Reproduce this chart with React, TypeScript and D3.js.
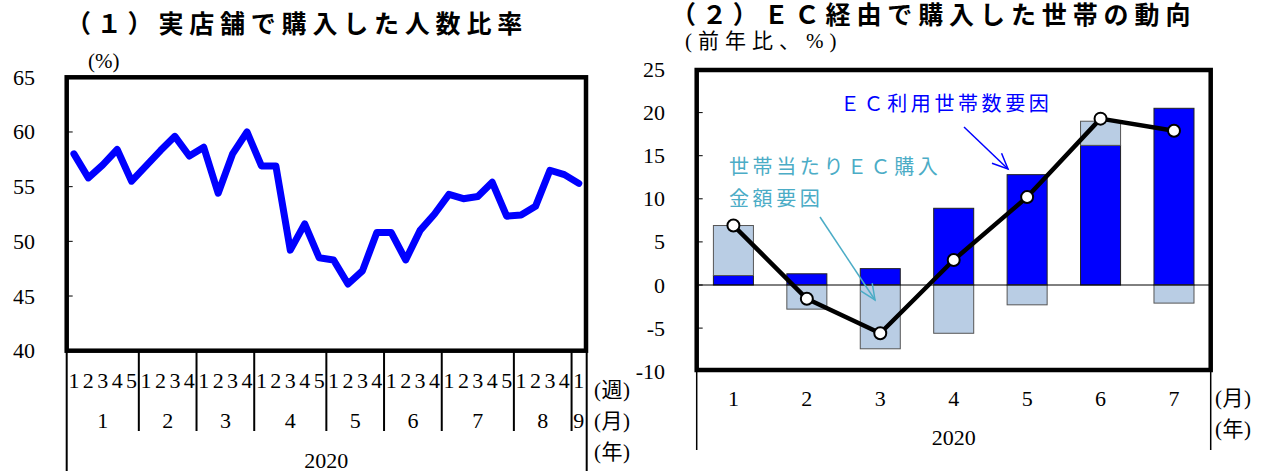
import React from 'react';
import * as d3 from 'd3';

// (1) share of people buying in physical stores, weekly, 2020
const storeRatio = [
  58.0, 55.8, 57.0, 58.4, 55.5,
  56.9, 58.3, 59.6, 57.8,
  58.6, 54.4, 58.0, 60.0,
  56.9, 56.9, 49.2, 51.6, 48.5,
  48.3, 46.1, 47.3, 50.8,
  50.8, 48.3, 51.0, 52.5,
  54.3, 53.9, 54.1, 55.4, 52.3,
  52.4, 53.2, 56.5, 56.1,
  55.3,
];
const storeMonths = ['1', '2', '3', '4', '5', '6', '7', '8', '9'];
const weeksPerMonth = [5, 4, 4, 5, 4, 4, 5, 4, 1];
const storeTicks = [40, 45, 50, 55, 60, 65];

// (2) EC purchasing households, y/y %
const ecMonths = ['1', '2', '3', '4', '5', '6', '7'];
const householdFactor = [1.1, 1.3, 1.9, 8.9, 12.8, 16.2, 20.5];
const amountFactor = [5.8, -2.8, -7.4, -5.6, -2.3, 2.8, -2.1];
const ecTotal = [6.9, -1.6, -5.6, 2.9, 10.2, 19.3, 17.9];
const ecTicks = [-10, -5, 0, 5, 10, 15, 20, 25];

const serif = "'Liberation Serif', 'Noto Sans CJK JP', serif";
const gothic = "'Noto Sans CJK JP', sans-serif";
const BLUE = '#0000ff';
const LIGHT = '#b9cde4';
const TEAL = '#4bacc6';

const fmt = (v: number) => (v < 0 ? '-' + Math.abs(v) : String(v));

function Arrow({ x1, y1, x2, y2, color }: { x1: number; y1: number; x2: number; y2: number; color: string }) {
  const a = Math.atan2(y2 - y1, x2 - x1);
  const len = 17;
  const spread = 0.42;
  const p1 = [x2 - len * Math.cos(a - spread), y2 - len * Math.sin(a - spread)];
  const p2 = [x2 - len * Math.cos(a + spread), y2 - len * Math.sin(a + spread)];
  return (
    <g stroke={color} strokeWidth={1.5} fill="none">
      <line x1={x1} y1={y1} x2={x2} y2={y2} />
      <polyline points={`${p1[0]},${p1[1]} ${x2},${y2} ${p2[0]},${p2[1]}`} />
    </g>
  );
}

function StoreChart() {
  const weeks = storeRatio.map((_, i) => i);
  const x = d3.scaleBand<number>().domain(weeks).range([66.7, 586]);
  const y = d3.scaleLinear().domain([40, 65]).range([350.7, 77.3]);
  const line = d3.line<number>()
    .x((_, i) => x(i)! + x.bandwidth() / 2)
    .y(d => y(d));

  // week labels + month boundaries
  const weekLabels: { i: number; label: string }[] = [];
  const bounds: number[] = [];
  const monthCenters: { m: string; cx: number }[] = [];
  let k = 0;
  weeksPerMonth.forEach((n, mi) => {
    const start = x(k)!;
    for (let w = 1; w <= n; w++) weekLabels.push({ i: k + w - 1, label: String(w) });
    k += n;
    const end = k < weeks.length ? x(k)! : x.range()[1];
    monthCenters.push({ m: storeMonths[mi], cx: (start + end) / 2 });
    if (k < weeks.length) bounds.push(end);
  });
  const [x0, x1] = x.range();

  return (
    <g>
      <text x={66} y={33} fontFamily={gothic} fontWeight="bold" fontSize={25} letterSpacing={5.8}>（１）実店舗で購入した人数比率</text>
      <text x={88} y={68} fontFamily={serif} fontSize={21}>(%)</text>
      {storeTicks.map(t => (
        <g key={t}>
          <text x={35} y={y(t)} textAnchor="end" dominantBaseline="central" fontFamily={serif} fontSize={22}>{t}</text>
          {t > 40 && t < 65 && <line x1={x0} x2={x0 + 6} y1={y(t)} y2={y(t)} stroke="#000" strokeWidth={1} />}
        </g>
      ))}
      <path d={line(storeRatio)!} fill="none" stroke={BLUE} strokeWidth={7} strokeLinejoin="round" strokeLinecap="round" />
      <rect x={x0} y={y(65)} width={x1 - x0} height={y(40) - y(65)} fill="none" stroke="#000" strokeWidth={4.5} />
      {bounds.map(b => (
        <line key={b} x1={b} x2={b} y1={y(40)} y2={431} stroke="#000" strokeWidth={2} />
      ))}
      <line x1={x0} x2={x0} y1={y(40)} y2={471} stroke="#000" strokeWidth={2} />
      <line x1={x1 + 0.7} x2={x1 + 0.7} y1={y(40)} y2={471} stroke="#000" strokeWidth={2} />
      {weekLabels.map(w => (
        <text key={w.i} x={x(w.i)! + x.bandwidth() / 2} y={380} textAnchor="middle" dominantBaseline="central" fontFamily={serif} fontSize={22}>{w.label}</text>
      ))}
      {monthCenters.map(m => (
        <text key={m.m} x={m.cx} y={420} textAnchor="middle" dominantBaseline="central" fontFamily={serif} fontSize={22}>{m.m}</text>
      ))}
      <text x={(x0 + x1) / 2} y={460} textAnchor="middle" dominantBaseline="central" fontFamily={serif} fontSize={22}>2020</text>
      <text x={594} y={390} dominantBaseline="central" fontFamily={serif} fontSize={21} letterSpacing={0.5}>(週)</text>
      <text x={594} y={421} dominantBaseline="central" fontFamily={serif} fontSize={21} letterSpacing={0.5}>(月)</text>
      <text x={594} y={452} dominantBaseline="central" fontFamily={serif} fontSize={21} letterSpacing={0.5}>(年)</text>
    </g>
  );
}

function EcChart() {
  const x = d3.scaleBand().domain(ecMonths).range([696.7, 1210.7]).paddingInner(0.455).paddingOuter(0.2275);
  const y = d3.scaleLinear().domain([-10, 25]).range([371.2, 69.5]);
  const cx = (m: string) => x(m)! + x.bandwidth() / 2;
  const line = d3.line<number>().x((_, i) => cx(ecMonths[i])).y(d => y(d));
  const [x0, x1] = x.range();
  const top = 70;
  const bottom = 370;

  return (
    <g>
      <text x={671} y={24} fontFamily={gothic} fontWeight="bold" fontSize={25} letterSpacing={5.9}>（２）ＥＣ経由で購入した世帯の動向</text>
      <text x={685} y={48} fontFamily={serif} fontSize={21} letterSpacing={6}>(前年比、%)</text>
      {ecTicks.map(t => (
        <g key={t}>
          <text x={665} y={y(t)} textAnchor="end" dominantBaseline="central" fontFamily={serif} fontSize={22}>{fmt(t)}</text>
          {t > -10 && t < 25 && <line x1={x0} x2={x0 + 6} y1={y(t)} y2={y(t)} stroke="#000" strokeWidth={1} />}
        </g>
      ))}
      {ecMonths.map((m, i) => {
        const h = householdFactor[i];
        const a = amountFactor[i];
        const aBase = a >= 0 ? h : 0;
        return (
          <g key={m}>
            <rect x={x(m)} width={x.bandwidth()} y={y(Math.max(0, h))} height={Math.abs(y(h) - y(0))} fill={BLUE} stroke="#222" strokeWidth={1} />
            <rect x={x(m)} width={x.bandwidth()} y={y(Math.max(aBase, aBase + a))} height={Math.abs(y(aBase + a) - y(aBase))} fill={LIGHT} stroke="#555" strokeWidth={1} />
          </g>
        );
      })}
      <line x1={x0} x2={x1} y1={y(0)} y2={y(0)} stroke="#000" strokeWidth={1} />
      <path d={line(ecTotal)!} fill="none" stroke="#000" strokeWidth={4.5} strokeLinejoin="round" />
      {ecTotal.map((v, i) => (
        <circle key={i} cx={cx(ecMonths[i])} cy={y(v)} r={6} fill="#fff" stroke="#000" strokeWidth={2} />
      ))}
      <rect x={x0} y={top} width={x1 - x0} height={bottom - top} fill="none" stroke="#000" strokeWidth={4.5} />
      <line x1={x0} x2={x0} y1={bottom} y2={450} stroke="#000" strokeWidth={1.5} />
      <line x1={x1} x2={x1} y1={bottom} y2={450} stroke="#000" strokeWidth={1.5} />
      {ecMonths.map(m => (
        <text key={m} x={cx(m)} y={398} textAnchor="middle" dominantBaseline="central" fontFamily={serif} fontSize={22}>{m}</text>
      ))}
      <text x={(x0 + x1) / 2} y={437} textAnchor="middle" dominantBaseline="central" fontFamily={serif} fontSize={22}>2020</text>
      <text x={1215} y={398} dominantBaseline="central" fontFamily={serif} fontSize={21} letterSpacing={0.5}>(月)</text>
      <text x={1215} y={429} dominantBaseline="central" fontFamily={serif} fontSize={21} letterSpacing={0.5}>(年)</text>

      <text x={840} y={102} dominantBaseline="central" fontFamily={gothic} fontSize={20} letterSpacing={3.6} fill={BLUE}>ＥＣ利用世帯数要因</text>
      <Arrow x1={964} y1={127} x2={1008} y2={169} color={BLUE} />
      <text x={729} y={165} dominantBaseline="central" fontFamily={gothic} fontSize={20} letterSpacing={3.6} fill={TEAL}>世帯当たりＥＣ購入</text>
      <text x={729} y={197} dominantBaseline="central" fontFamily={gothic} fontSize={20} letterSpacing={3.6} fill={TEAL}>金額要因</text>
      <Arrow x1={820} y1={217} x2={875} y2={300} color={TEAL} />
    </g>
  );
}

export default function App() {
  return (
    <svg width={1269} height={471} style={{ position: 'absolute', left: 0, top: 0, background: '#fff' }}>
      <rect width={1269} height={471} fill="#fff" />
      <StoreChart />
      <EcChart />
    </svg>
  );
}
